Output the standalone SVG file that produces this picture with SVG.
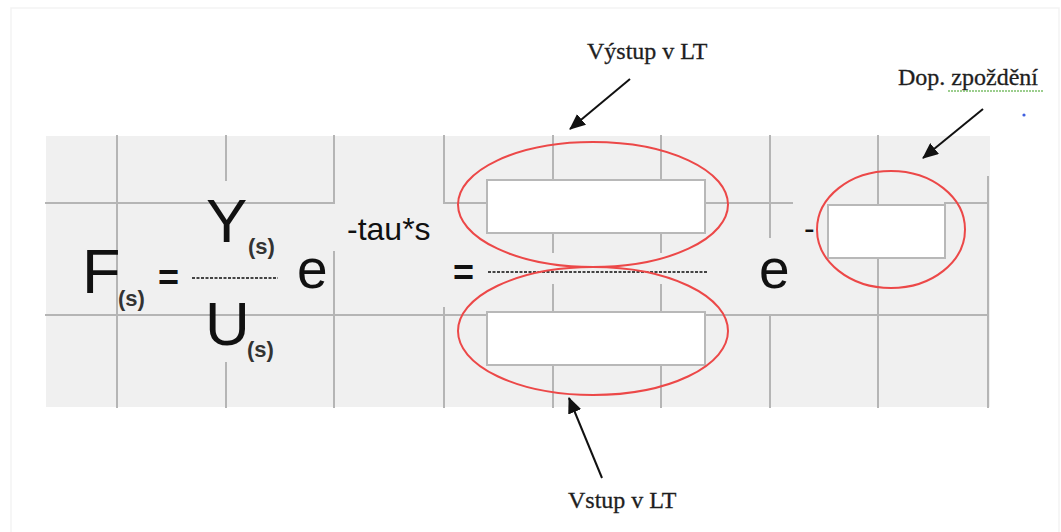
<svg xmlns="http://www.w3.org/2000/svg" width="1061" height="532" viewBox="0 0 1061 532">
<style>
.grid{stroke:#b5b5b5;stroke-width:2;fill:none;stroke-linecap:square}
.box{fill:#ffffff;stroke:#b8b8b8;stroke-width:2}
.ring{fill:none;stroke:#ec4848;stroke-width:2}
.eq{font-family:"Liberation Sans",Arial,sans-serif;fill:#111}
.sub{font-family:"Liberation Sans",Arial,sans-serif;font-weight:bold;font-size:22px;fill:#333}
.lbl{font-family:"Liberation Serif","Times New Roman",serif;font-size:24px;fill:#1e1e1e;stroke:#1e1e1e;stroke-width:0.3}
.frac{stroke:#444;stroke-width:2;stroke-dasharray:3 1.5}
.arr{stroke:#111;stroke-width:2;fill:none}
</style>
<defs>
<marker id="ah" markerUnits="userSpaceOnUse" markerWidth="16" markerHeight="14" refX="15" refY="7" orient="auto">
<path d="M0,0 L16,7 L0,14 z" fill="#111"/>
</marker>
</defs>
<rect x="11" y="8" width="1048" height="530" fill="#ffffff" stroke="#f3f3f3" stroke-width="1.5"/>
<g id="panel">
<rect x="46" y="136" width="944" height="271" fill="#f0f0f0"/>
<path class="grid" d="M117,136 V407 M226,136 V180 M226,363 V407 M46,203 H334 V136 M334,252 V407 M444,136 V203 H487 M444,308 V407 M553,136 V180 M553,233 V252 M553,285 V312 M553,365 V407 M661,136 V180 M661,233 V252 M661,285 V312 M661,365 V407 M705,203 H792 M770,136 V237 M770,316 V407 M878,136 V205 M878,258 V407 M945,203 H988 M988,177 V407 M46,315 H487 M705,315 H988"/>
</g>
<g id="formula">
<text class="eq" x="82" y="293" font-size="63">F</text>
<text class="sub" x="118" y="306">(s)</text>
<text class="eq" x="158" y="290" font-size="36" font-weight="bold">=</text>
<line class="frac" x1="192" y1="278" x2="278" y2="278"/>
<text class="eq" x="206" y="242" font-size="62">Y</text>
<text class="sub" x="248" y="254">(s)</text>
<text class="eq" x="205" y="345" font-size="62">U</text>
<text class="sub" x="247" y="357">(s)</text>
<text class="eq" x="297" y="288" font-size="55">e</text>
<text class="eq" x="347" y="240" font-size="32">-tau*s</text>
<text class="eq" x="453" y="285" font-size="36" font-weight="bold">=</text>
<line class="frac" x1="488" y1="272" x2="707" y2="272"/>
<text class="eq" x="759" y="288" font-size="55">e</text>
<text class="eq" x="804" y="239" font-size="32">-</text>
</g>
<g id="vystup-box">
<rect class="box" x="487" y="180" width="218" height="53"/>
<ellipse class="ring" cx="593" cy="204.5" rx="135" ry="62.5"/>
</g>
<g id="vstup-box">
<rect class="box" x="487" y="312" width="218" height="53"/>
<ellipse class="ring" cx="593" cy="331" rx="135" ry="64"/>
</g>
<g id="zpozdeni-box">
<rect class="box" x="828" y="205" width="117" height="53"/>
<ellipse class="ring" cx="891" cy="229.5" rx="74" ry="58.5"/>
</g>
<g id="label-vystup">
<text class="lbl" x="587" y="59">Výstup v LT</text>
</g>
<g id="label-zpozdeni">
<text class="lbl" x="898" y="85">Dop. zpoždění</text>
<line x1="948" y1="91" x2="1043" y2="91" stroke="#7cbf6a" stroke-width="1.5" stroke-dasharray="2 1"/>
<circle cx="1024" cy="115" r="1.6" fill="#4060e0"/>
</g>
<g id="label-vstup">
<text class="lbl" x="568" y="508">Vstup v LT</text>
</g>
<g id="connectors">
<line class="arr" x1="630" y1="79" x2="570" y2="129" marker-end="url(#ah)"/>
<line class="arr" x1="983" y1="109" x2="923" y2="158" marker-end="url(#ah)"/>
<line class="arr" x1="602" y1="478" x2="569" y2="398" marker-end="url(#ah)"/>
</g>
</svg>
